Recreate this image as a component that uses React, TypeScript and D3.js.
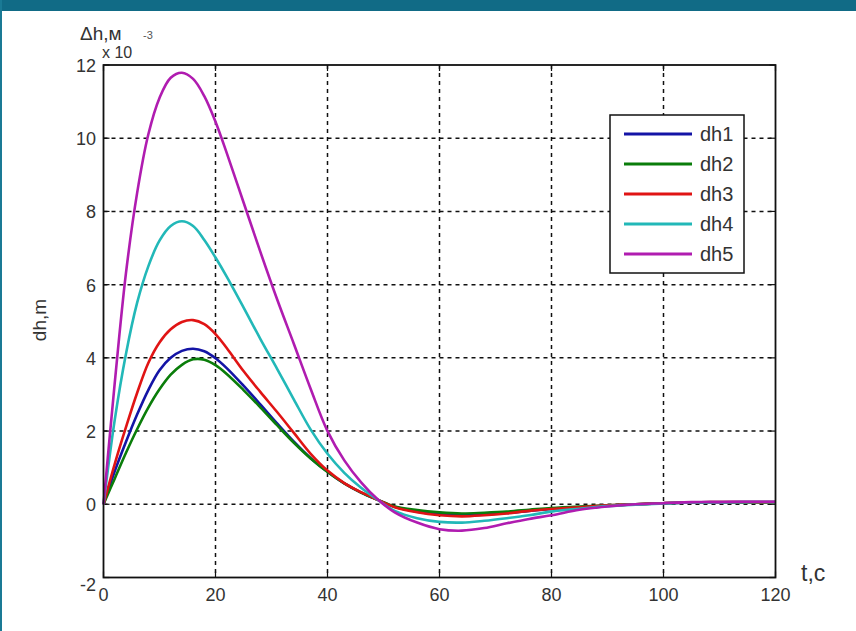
import React from "react";
import * as d3 from "d3";

const times = [0, 2, 4, 6, 8, 10, 12, 14, 16, 18, 20, 22, 25, 28, 31, 34, 37, 40, 43, 46, 49, 52, 56, 60, 64, 68, 72, 76, 80, 85, 90, 95, 100, 105, 110, 115, 120];
const dh1 = [0, 0.9, 1.7, 2.45, 3.12, 3.66, 4.0, 4.19, 4.25, 4.18, 3.99, 3.72, 3.24, 2.73, 2.21, 1.71, 1.26, 0.89, 0.57, 0.32, 0.12, -0.07, -0.2, -0.27, -0.3, -0.28, -0.24, -0.18, -0.13, -0.08, -0.04, 0, 0.03, 0.05, 0.06, 0.06, 0.06];
const dh2 = [0, 0.7, 1.4, 2.05, 2.64, 3.14, 3.54, 3.81, 3.96, 3.95, 3.8, 3.56, 3.12, 2.65, 2.16, 1.68, 1.25, 0.88, 0.57, 0.32, 0.12, -0.06, -0.16, -0.22, -0.25, -0.23, -0.2, -0.15, -0.1, -0.06, -0.03, 0, 0.03, 0.05, 0.05, 0.05, 0.05];
const dh3 = [0, 1.1, 2.1, 3.04, 3.86, 4.42, 4.78, 4.98, 5.03, 4.92, 4.65, 4.27, 3.64, 3.07, 2.52, 1.95, 1.38, 0.92, 0.58, 0.33, 0.12, -0.08, -0.22, -0.3, -0.33, -0.3, -0.25, -0.18, -0.13, -0.08, -0.03, 0, 0.03, 0.05, 0.06, 0.06, 0.06];
const dh4 = [0, 2.3, 4.1, 5.5, 6.5, 7.2, 7.6, 7.73, 7.6, 7.22, 6.74, 6.22, 5.38, 4.52, 3.7, 2.86, 2.04, 1.38, 0.86, 0.45, 0.12, -0.18, -0.38, -0.48, -0.5, -0.45, -0.38, -0.3, -0.2, -0.12, -0.05, -0.01, 0.02, 0.05, 0.05, 0.06, 0.06];
const dh5 = [0, 3.3, 6.3, 8.5, 10.1, 11.1, 11.65, 11.79, 11.62, 11.15, 10.45, 9.6, 8.25, 6.9, 5.6, 4.38, 3.15, 2.0, 1.2, 0.6, 0.13, -0.22, -0.5, -0.68, -0.72, -0.65, -0.52, -0.4, -0.3, -0.15, -0.06, 0, 0.03, 0.06, 0.06, 0.07, 0.07];

const seriesNames = ["dh1", "dh2", "dh3", "dh4", "dh5"];
const seriesColors = ["#1414a6", "#0a7d0a", "#e01414", "#22b8b8", "#b01cb0"];
const seriesData = [dh1, dh2, dh3, dh4, dh5];
const xTicks = [0, 20, 40, 60, 80, 100, 120];
const yTicks = [-2, 0, 2, 4, 6, 8, 10, 12];

const W = 856;
const H = 631;
const FONT = "'Liberation Sans', Arial, sans-serif";

export default function App() {
  const x = d3.scaleLinear().domain([0, 120]).range([103.5, 775.5]);
  const y = d3.scaleLinear().domain([-2, 12]).range([577.5, 65]);
  const line = d3
    .line<number>()
    .x((_, i) => x(times[i]))
    .y((d) => y(d))
    .curve(d3.curveCatmullRom.alpha(0.5));

  const [x0, x1] = x.range();
  const [y0, y1] = y.range();
  const legX = 610, legY = 115, legW = 134, legH = 158;

  return (
    <svg width={W} height={H} style={{ position: "absolute", left: 0, top: 0, background: "#fff" }} fontFamily={FONT}>
      <rect x={0} y={0} width={W} height={H} fill="#ffffff" />
      <rect x={0} y={0} width={W} height={11} fill="#116b86" />
      <rect x={0} y={0} width={2} height={H} fill="#1a7a95" />

      {/* grid */}
      {xTicks.slice(1, -1).map((t) => (
        <line key={"gx" + t} x1={x(t)} x2={x(t)} y1={y1} y2={y0} stroke="#111" strokeWidth={1.5} strokeDasharray="4,4" />
      ))}
      {yTicks.slice(1, -1).map((t) => (
        <line key={"gy" + t} x1={x0} x2={x1} y1={y(t)} y2={y(t)} stroke="#111" strokeWidth={1.5} strokeDasharray="4,4" />
      ))}

      {/* ticks inside */}
      {xTicks.map((t) => (
        <g key={"tx" + t}>
          <line x1={x(t)} x2={x(t)} y1={y0} y2={y0 - 6} stroke="#111" strokeWidth={1.2} />
          <line x1={x(t)} x2={x(t)} y1={y1} y2={y1 + 6} stroke="#111" strokeWidth={1.2} />
        </g>
      ))}
      {yTicks.map((t) => (
        <g key={"ty" + t}>
          <line x1={x0} x2={x0 + 6} y1={y(t)} y2={y(t)} stroke="#111" strokeWidth={1.2} />
          <line x1={x1} x2={x1 - 6} y1={y(t)} y2={y(t)} stroke="#111" strokeWidth={1.2} />
        </g>
      ))}

      {/* series */}
      {seriesData.map((s, i) => (
        <path key={seriesNames[i]} d={line(s) || ""} fill="none" stroke={seriesColors[i]} strokeWidth={2.6} strokeLinejoin="round" />
      ))}

      {/* frame */}
      <rect x={x0} y={y1} width={x1 - x0} height={y0 - y1} fill="none" stroke="#111" strokeWidth={1.8} />

      {/* tick labels */}
      {xTicks.map((t) => (
        <text key={"lx" + t} x={x(t)} y={601} textAnchor="middle" fontSize={18} fill="#333">
          {t}
        </text>
      ))}
      {yTicks.map((t) => (
        <text key={"ly" + t} x={96} y={y(t) + (t === -2 ? 13 : 7)} textAnchor="end" fontSize={18} fill="#333">
          {t}
        </text>
      ))}

      {/* axis labels */}
      <text x={801} y={581} fontSize={23} fill="#333">t,c</text>
      <text transform="translate(46,320) rotate(-90)" textAnchor="middle" fontSize={19} fill="#333">dh,m</text>
      <text x={80} y={40} fontSize={19} fill="#333">Δh,м</text>
      <text x={143} y={39} fontSize={11} fill="#555">-3</text>
      <text x={102} y={58} fontSize={16} fill="#333">x 10</text>

      {/* legend */}
      <rect x={legX} y={legY} width={legW} height={legH} fill="#fff" stroke="#111" strokeWidth={1.5} />
      {seriesNames.map((n, i) => {
        const ly = 134 + i * 30;
        return (
          <g key={"leg" + n}>
            <line x1={624} x2={692} y1={ly} y2={ly} stroke={seriesColors[i]} strokeWidth={3} />
            <text x={700} y={ly + 7} fontSize={20} fill="#333">{n}</text>
          </g>
        );
      })}
    </svg>
  );
}
